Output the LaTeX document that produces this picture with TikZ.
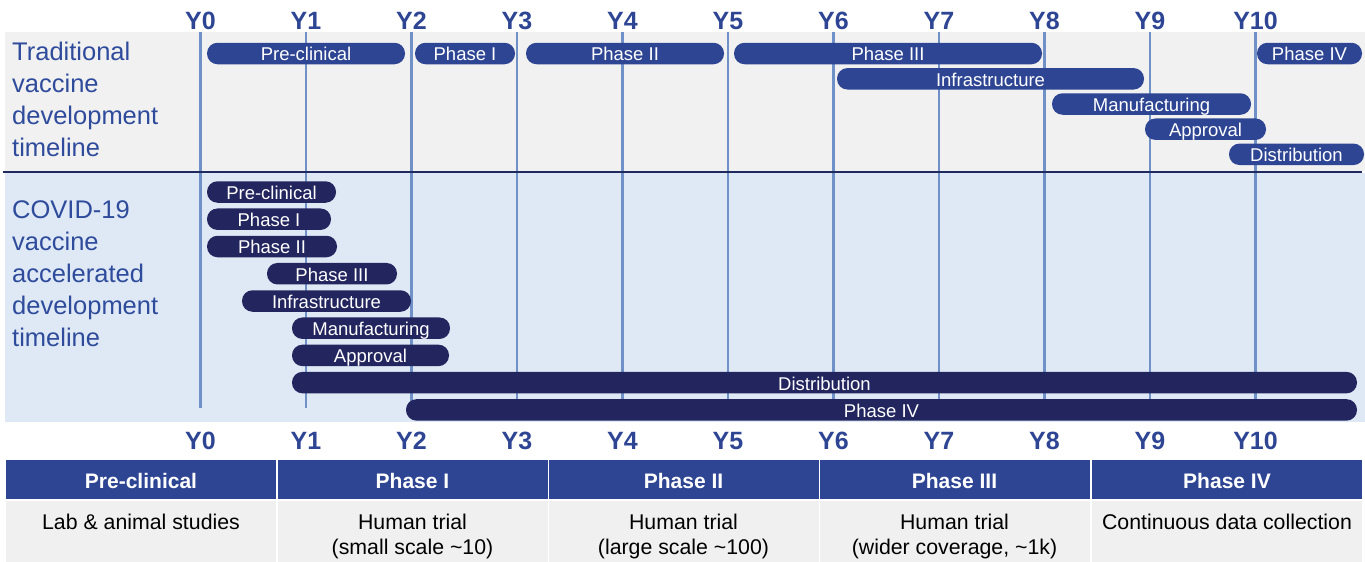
\documentclass[tikz,border=0pt]{standalone}
\usepackage{fontspec}
\setmainfont{Liberation Sans}
\definecolor{barblue}{HTML}{2E4594}
\definecolor{barnavy}{HTML}{22255E}
\definecolor{gridblue}{HTML}{7090C8}
\definecolor{panelgray}{HTML}{F1F1F1}
\definecolor{panelblue}{HTML}{DEE9F5}
\definecolor{divnavy}{HTML}{1F2A5E}
\definecolor{labblue}{HTML}{2F4B9C}
\definecolor{yblue}{HTML}{2E4594}
\definecolor{bodygray}{HTML}{F0F0F0}
\newcommand\mkbar[6]{\node[#1, minimum width={(#3)-(#2)}] (#6) at ({((#2)+(#3))/2},#4) {#5};}
\begin{document}
\begin{tikzpicture}[x=1pt,y=-1pt,
  barbase/.style={rectangle, rounded corners=10.5pt, inner sep=0pt, minimum height=21.5pt,
    text=white, font=\fontsize{18.5}{18.5}\selectfont, text height=15.4pt, text depth=0.6pt},
  topbar/.style={barbase, fill=barblue},
  lowbar/.style={barbase, fill=barnavy},
  ylab/.style={font=\fontsize{25}{25}\selectfont\bfseries, text=yblue, inner sep=0pt, anchor=base},
  sidelab/.style={font=\fontsize{25.5}{25.5}\selectfont, text=labblue, inner sep=0pt, anchor=base west},
  yline/.style={draw=gridblue, line width=2.6pt},
  hdrcell/.style={rectangle, fill=barblue, inner sep=0pt, minimum width=270pt, minimum height=39pt,
    text=white, font=\fontsize{21}{21}\selectfont\bfseries, text height=17.8pt, text depth=0.5pt},
  bodycell/.style={rectangle, fill=bodygray, inner sep=0pt, minimum width=270pt, minimum height=61pt},
  bodytxt/.style={font=\fontsize{21.3}{25}\selectfont, text=black, align=center, inner sep=0pt, anchor=north}
]
\useasboundingbox (0,0) rectangle (1365,562);
% panels
\fill[panelgray] (5,32) rectangle (1365,171);
\fill[panelblue] (5,173) rectangle (1365,422);
% year grid lines and labels
\foreach \i in {0,...,10}{
  \coordinate (gt\i) at ({200.5+105.5*\i},32);
  \coordinate (gb\i) at ({200.5+105.5*\i},408);
  \draw[yline] (gt\i) -- (gb\i);
  \node[ylab] (ytop\i) at ({200.5+105.5*\i},29) {Y\i};
  \node[ylab] (ybot\i) at ({200.5+105.5*\i},449.5) {Y\i};
}
% divider
\coordinate (dl) at (3,172);
\coordinate (dr) at (1362,172);
\draw[divnavy, line width=2.8pt] (dl) -- (dr);
% side labels
\node[sidelab] (tl1) at (12,60) {Traditional};
\node[sidelab] (tl2) at (12,92) {vaccine};
\node[sidelab] (tl3) at (12,124) {development};
\node[sidelab] (tl4) at (12,156) {timeline};
\node[sidelab] (cl1) at (12,218) {COVID-19};
\node[sidelab] (cl2) at (12,250) {vaccine};
\node[sidelab] (cl3) at (12,282) {accelerated};
\node[sidelab] (cl4) at (12,314) {development};
\node[sidelab] (cl5) at (12,346) {timeline};
% traditional bars
\mkbar{topbar}{207}{405}{53.5}{Pre-clinical}{tpre}
\mkbar{topbar}{415}{515}{53.5}{Phase I}{tp1}
\mkbar{topbar}{526}{724}{53.5}{Phase II}{tp2}
\mkbar{topbar}{734}{1042}{53.5}{Phase III}{tp3}
\mkbar{topbar}{1257}{1362}{53.5}{Phase IV}{tp4}
\mkbar{topbar}{837}{1144}{78.8}{Infrastructure}{tinf}
\mkbar{topbar}{1052}{1251}{104}{Manufacturing}{tman}
\mkbar{topbar}{1145}{1266}{129.2}{Approval}{tapp}
\mkbar{topbar}{1229}{1364}{154.3}{Distribution}{tdis}
% covid bars
\mkbar{lowbar}{207}{336}{192}{Pre-clinical}{lpre}
\mkbar{lowbar}{207}{331}{219.2}{Phase I}{lp1}
\mkbar{lowbar}{207}{337}{246.5}{Phase II}{lp2}
\mkbar{lowbar}{267}{397}{273.7}{Phase III}{lp3}
\mkbar{lowbar}{242}{411}{301}{Infrastructure}{linf}
\mkbar{lowbar}{292}{450}{328.2}{Manufacturing}{lman}
\mkbar{lowbar}{292}{449}{355.4}{Approval}{lapp}
\mkbar{lowbar}{292}{1357}{382.6}{Distribution}{ldis}
\mkbar{lowbar}{406}{1357}{409.9}{Phase IV}{lp4}
% table
\node[hdrcell] (h1) at (141,479.5) {Pre-clinical};
\node[hdrcell] (h2) at (412.5,479.5) {Phase I};
\node[hdrcell] (h3) at (683.5,479.5) {Phase II};
\node[hdrcell] (h4) at (954.5,479.5) {Phase III};
\node[hdrcell] (h5) at (1227,479.5) {Phase IV};
\node[bodycell] (b1) at (141,531.5) {};
\node[bodycell] (b2) at (412.5,531.5) {};
\node[bodycell] (b3) at (683.5,531.5) {};
\node[bodycell] (b4) at (954.5,531.5) {};
\node[bodycell] (b5) at (1227,531.5) {};
\node[bodytxt] (bt1) at (141,513.5) {Lab \& animal studies};
\node[bodytxt] (bt2) at (412.5,513.5) {Human trial\\(small scale \textasciitilde10)};
\node[bodytxt] (bt3) at (683.5,513.5) {Human trial\\(large scale \textasciitilde100)};
\node[bodytxt] (bt4) at (954.5,513.5) {Human trial\\(wider coverage, \textasciitilde1k)};
\node[bodytxt] (bt5) at (1227,513.5) {Continuous data collection};
\end{tikzpicture}
\end{document}
